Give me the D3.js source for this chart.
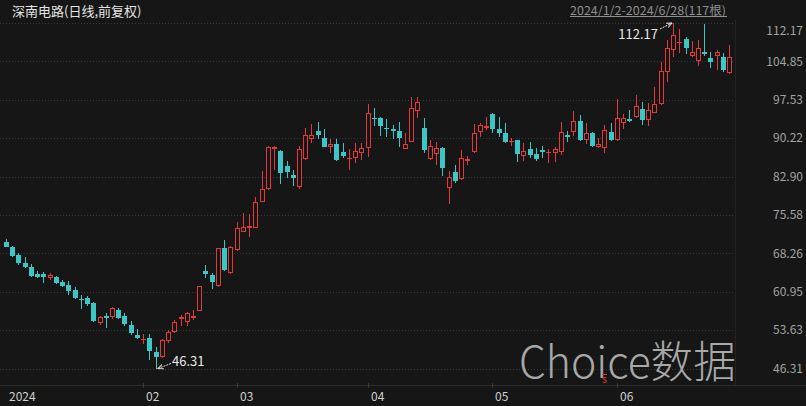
<!DOCTYPE html>
<html><head><meta charset="utf-8">
<script src="https://cdn.jsdelivr.net/npm/d3@7/dist/d3.min.js"></script>
<style>
html,body{margin:0;padding:0;background:#161616;}
svg{display:block;}
text{font-family:"Noto Sans CJK SC","Noto Sans",sans-serif;}
</style></head>
<body><svg id="chart" width="806" height="406"></svg>
<script>
// ---- data ----
const title = "深南电路(日线,前复权)";
const rangeLabel = "2024/1/2-2024/6/28(117根)";
const monthLabels = ["2024","02","03","04","05","06"];
const monthDays = [22,15,21,20,20,19];
const yTicks = [46.31,53.63,60.95,68.26,75.58,82.90,90.22,97.53,104.85,112.17];
const open = [70.48,69.41,67.95,66.48,65.72,64.27,64.27,63.62,63.81,62.86,62.23,61.27,59.56,59.69,58.74,55.04,56.38,56.13,57.46,56.38,54.60,52.70,51.74,52.07,49.46,48.44,51.49,53.33,55.80,55.23,55.99,57.33,64.90,64.13,62.04,69.34,64.46,68.90,72.39,73.04,73.15,78.11,80.47,88.09,87.77,84.91,83.19,80.85,86.19,90.00,91.58,90.19,88.59,89.10,87.64,86.25,86.38,87.45,88.29,94.00,94.00,92.15,92.02,91.58,88.21,89.54,95.40,92.10,86.19,87.14,88.34,80.66,83.77,82.38,85.92,87.52,91.34,92.10,94.82,91.91,91.14,89.54,89.87,86.87,88.09,87.20,87.96,87.45,87.33,87.64,90.82,91.34,93.49,89.87,91.26,88.59,88.40,91.45,89.87,93.17,93.87,94.31,95.72,93.68,94.96,96.67,102.89,107.02,108.49,109.12,105.94,104.93,106.58,105.56,105.94,105.75,102.58];
const high = [70.94,69.66,68.27,67.51,66.17,64.95,64.76,64.57,64.00,63.18,62.99,61.90,60.32,60.13,58.93,56.38,56.83,58.09,57.90,56.83,55.37,53.78,52.89,52.83,50.35,51.88,53.65,55.56,56.51,57.14,57.46,62.09,65.98,64.46,69.34,70.81,69.66,74.29,75.95,75.70,79.00,83.96,88.63,88.78,87.96,85.86,84.15,88.72,92.10,92.86,93.30,91.91,90.00,90.00,89.35,88.21,89.24,89.24,96.73,95.91,94.31,93.81,92.67,93.36,91.14,98.01,98.01,94.00,89.87,89.54,88.59,83.96,85.10,87.96,86.87,92.92,93.17,94.31,94.96,94.31,93.05,90.31,89.90,89.24,89.54,88.29,88.72,88.09,88.59,93.36,91.58,95.45,94.63,93.05,91.45,90.19,92.73,93.05,97.63,94.82,95.59,98.45,97.17,96.86,100.03,104.79,108.93,112.17,111.03,109.56,108.74,108.93,111.98,106.70,107.02,106.39,107.98];
const low = [69.41,67.51,66.04,65.41,63.81,63.50,62.67,63.18,62.42,61.90,60.32,59.62,57.60,58.28,55.17,54.60,54.09,55.69,55.69,54.47,52.70,51.93,51.04,47.93,46.31,48.25,51.11,53.02,54.47,54.47,55.56,57.21,63.50,61.47,61.90,64.90,64.32,68.77,72.30,71.43,73.00,78.05,80.33,84.15,81.48,82.57,81.16,80.53,86.06,89.24,90.00,88.48,87.33,85.86,86.49,84.15,85.54,86.06,86.57,92.54,90.69,90.50,90.00,88.48,88.15,89.49,94.00,87.33,86.06,85.10,83.00,77.67,81.73,82.24,85.10,87.45,90.50,91.77,91.14,90.50,89.24,88.78,85.73,85.86,86.49,85.86,86.38,85.54,85.73,87.01,89.54,90.69,89.68,89.05,88.59,88.40,87.45,89.77,89.77,91.91,93.36,94.00,92.73,92.54,94.92,96.54,100.98,105.75,106.39,106.20,105.75,104.03,105.94,103.53,103.21,102.89,102.39];
const close = [69.53,67.76,66.36,65.60,64.00,63.81,63.70,64.13,62.67,62.09,61.14,59.81,59.31,58.61,55.37,56.07,55.88,57.79,55.99,54.74,53.02,52.12,51.99,49.70,48.50,51.74,53.21,55.12,56.18,56.83,56.38,62.04,64.38,62.86,69.22,65.09,69.41,73.04,73.34,73.47,78.11,80.53,88.48,88.48,83.52,83.82,82.68,88.09,90.82,90.82,90.82,88.59,89.10,86.06,86.87,86.38,87.77,88.29,94.96,93.87,92.54,91.91,91.53,90.25,89.10,95.91,97.05,87.96,88.72,88.29,84.59,82.76,82.05,86.38,86.19,91.14,92.73,92.54,91.87,91.20,89.54,89.68,87.14,87.77,87.01,86.25,87.64,87.64,88.09,91.45,90.50,93.49,89.87,91.14,88.72,89.10,91.77,89.87,94.00,94.00,93.49,96.41,93.68,95.59,96.67,103.02,107.35,109.88,108.61,107.35,106.58,107.35,106.20,104.79,106.58,103.21,105.75];
const dividendIdx = 96;

// ---- build categories ----
const cats = [];
const monthStart = [];
monthDays.forEach((n, m) => { monthStart.push(cats.length); for (let k = 0; k < n; k++) cats.push(m + "-" + k); });
const data = cats.map((c, i) => ({c, o: open[i], h: high[i], l: low[i], cl: close[i]}));

const W = 806, H = 406;
const plotRight = 735;
const RED = "#e23a3c", TEAL = "#3cc6c6";
const svg = d3.select("#chart");
svg.append("rect").attr("width", W).attr("height", H).attr("fill", "#161616");

const x = d3.scaleBand().domain(cats).range([2.88, 732.3]);
const y = d3.scaleLinear().domain([46.31, 112.17]).range([368.5, 23]);
const cx = c => Math.round(x(c) + x.bandwidth() / 2);

// grid lines
svg.append("g").selectAll("line").data(yTicks).join("line")
  .attr("x1", 0).attr("x2", plotRight)
  .attr("y1", d => Math.round(y(d)) + 0.5).attr("y2", d => Math.round(y(d)) + 0.5)
  .attr("stroke", "#3a3a3a").attr("stroke-dasharray", "1,2");

// separators
svg.append("line").attr("x1", 0).attr("x2", W).attr("y1", 385.5).attr("y2", 385.5).attr("stroke", "#2e2e2e");
svg.append("line").attr("x1", plotRight + 0.5).attr("x2", plotRight + 0.5).attr("y1", 20).attr("y2", 385).attr("stroke", "#232323");

// y axis labels (right)
const yAxis = d3.axisRight(y).tickValues(yTicks).tickSize(0).tickFormat(d3.format(".2f"));
const ga = svg.append("g").attr("transform", `translate(${W},0)`).call(yAxis);
ga.select(".domain").remove();
ga.selectAll(".tick").attr("transform", d => `translate(0,${Math.max(y(d), 31)})`);
ga.selectAll("text").attr("x", -3).attr("text-anchor", "end").attr("fill", "#a3a3a3")
  .attr("font-size", 12).attr("dy", "0.35em").style("font-family", '"Noto Sans CJK SC",sans-serif');

// x axis
const xt = svg.append("g");
monthStart.forEach((idx, m) => {
  const px = cx(cats[idx]);
  if (m > 0) xt.append("line").attr("x1", px + 0.5).attr("x2", px + 0.5).attr("y1", 383).attr("y2", 388).attr("stroke", "#3a3a3a");
  xt.append("text").attr("x", px + 3).attr("y", 401).attr("fill", "#d0d0d0").attr("font-size", 12).text(monthLabels[m]);
});

// watermark
svg.append("text").attr("x", 519).attr("y", 378).attr("font-size", 44).attr("fill", "#c4c4c4")
  .attr("fill-opacity", 0.85).attr("textLength", 217).attr("lengthAdjust", "spacingAndGlyphs")
  .style("font-weight", 300).text("Choice数据");

// candles
const g = svg.append("g");
data.forEach(d => {
  const c = cx(d.c);
  const up = d.cl >= d.o;
  const top = Math.round(y(Math.max(d.o, d.cl)));
  const bot = Math.max(Math.round(y(Math.min(d.o, d.cl))), top + 1);
  const hy = Math.round(y(d.h)), ly = Math.round(y(d.l));
  if (up) {
    g.append("line").attr("x1", c + 0.5).attr("x2", c + 0.5).attr("y1", hy).attr("y2", top).attr("stroke", RED);
    g.append("line").attr("x1", c + 0.5).attr("x2", c + 0.5).attr("y1", bot).attr("y2", ly).attr("stroke", RED);
    if (bot - top <= 2) {
      g.append("rect").attr("x", c - 2).attr("y", top).attr("width", 5).attr("height", Math.max(1, bot - top)).attr("fill", RED);
    } else {
      g.append("rect").attr("x", c - 1.5).attr("y", top + 0.5).attr("width", 4).attr("height", bot - top - 1)
        .attr("fill", "#161616").attr("stroke", RED);
    }
  } else {
    g.append("line").attr("x1", c + 0.5).attr("x2", c + 0.5).attr("y1", hy).attr("y2", ly).attr("stroke", TEAL);
    g.append("rect").attr("x", c - 2).attr("y", top).attr("width", 5).attr("height", Math.max(1, bot - top)).attr("fill", TEAL);
  }
});

// dividend marker
const dx = cx(cats[dividendIdx]);
svg.append("line").attr("x1", dx - 2).attr("x2", dx + 3).attr("y1", 374.5).attr("y2", 374.5).attr("stroke", RED);
svg.append("text").attr("x", dx + 0.5).attr("y", 383).attr("text-anchor", "middle").attr("font-size", 10)
  .attr("fill", RED).text("s");

// max / min annotations
const maxI = d3.maxIndex(high), minI = d3.minIndex(low);
const defs = svg.append("defs");
defs.append("marker").attr("id", "arr").attr("viewBox", "0 0 10 10").attr("refX", 9).attr("refY", 5)
  .attr("markerWidth", 6).attr("markerHeight", 6).attr("orient", "auto-start-reverse")
  .append("path").attr("d", "M0,1 L9,5 L0,9").attr("fill", "none").attr("stroke", "#e8e8e8").attr("stroke-width", 1.5);
const mx = cx(cats[maxI]), my = y(high[maxI]);
svg.append("line").attr("x1", mx - 13).attr("y1", my + 6).attr("x2", mx - 1).attr("y2", my)
  .attr("stroke", "#e8e8e8").attr("stroke-dasharray", "2,1").attr("marker-end", "url(#arr)");
svg.append("text").attr("x", mx - 15).attr("y", my + 16).attr("text-anchor", "end").attr("font-size", 13)
  .attr("fill", "#e8e8e8").text(high[maxI].toFixed(2));
const nx = cx(cats[minI]), ny = y(low[minI]);
svg.append("line").attr("x1", nx + 15).attr("y1", ny - 5).attr("x2", nx + 2).attr("y2", ny)
  .attr("stroke", "#e8e8e8").attr("stroke-dasharray", "2,1").attr("marker-end", "url(#arr)");
svg.append("text").attr("x", nx + 16).attr("y", ny - 3).attr("font-size", 13)
  .attr("fill", "#e8e8e8").text(low[minI].toFixed(2));

// title & range
svg.append("text").attr("x", 12).attr("y", 16).attr("font-size", 13).attr("fill", "#e4e4e4").text(title);
svg.append("text").attr("x", 570).attr("y", 15).attr("font-size", 12).attr("fill", "#8e8e8e")
  .attr("textLength", 156).attr("lengthAdjust", "spacingAndGlyphs").text(rangeLabel);
svg.append("line").attr("x1", 570).attr("x2", 727).attr("y1", 16.5).attr("y2", 16.5).attr("stroke", "#8e8e8e");
</script></body></html>
